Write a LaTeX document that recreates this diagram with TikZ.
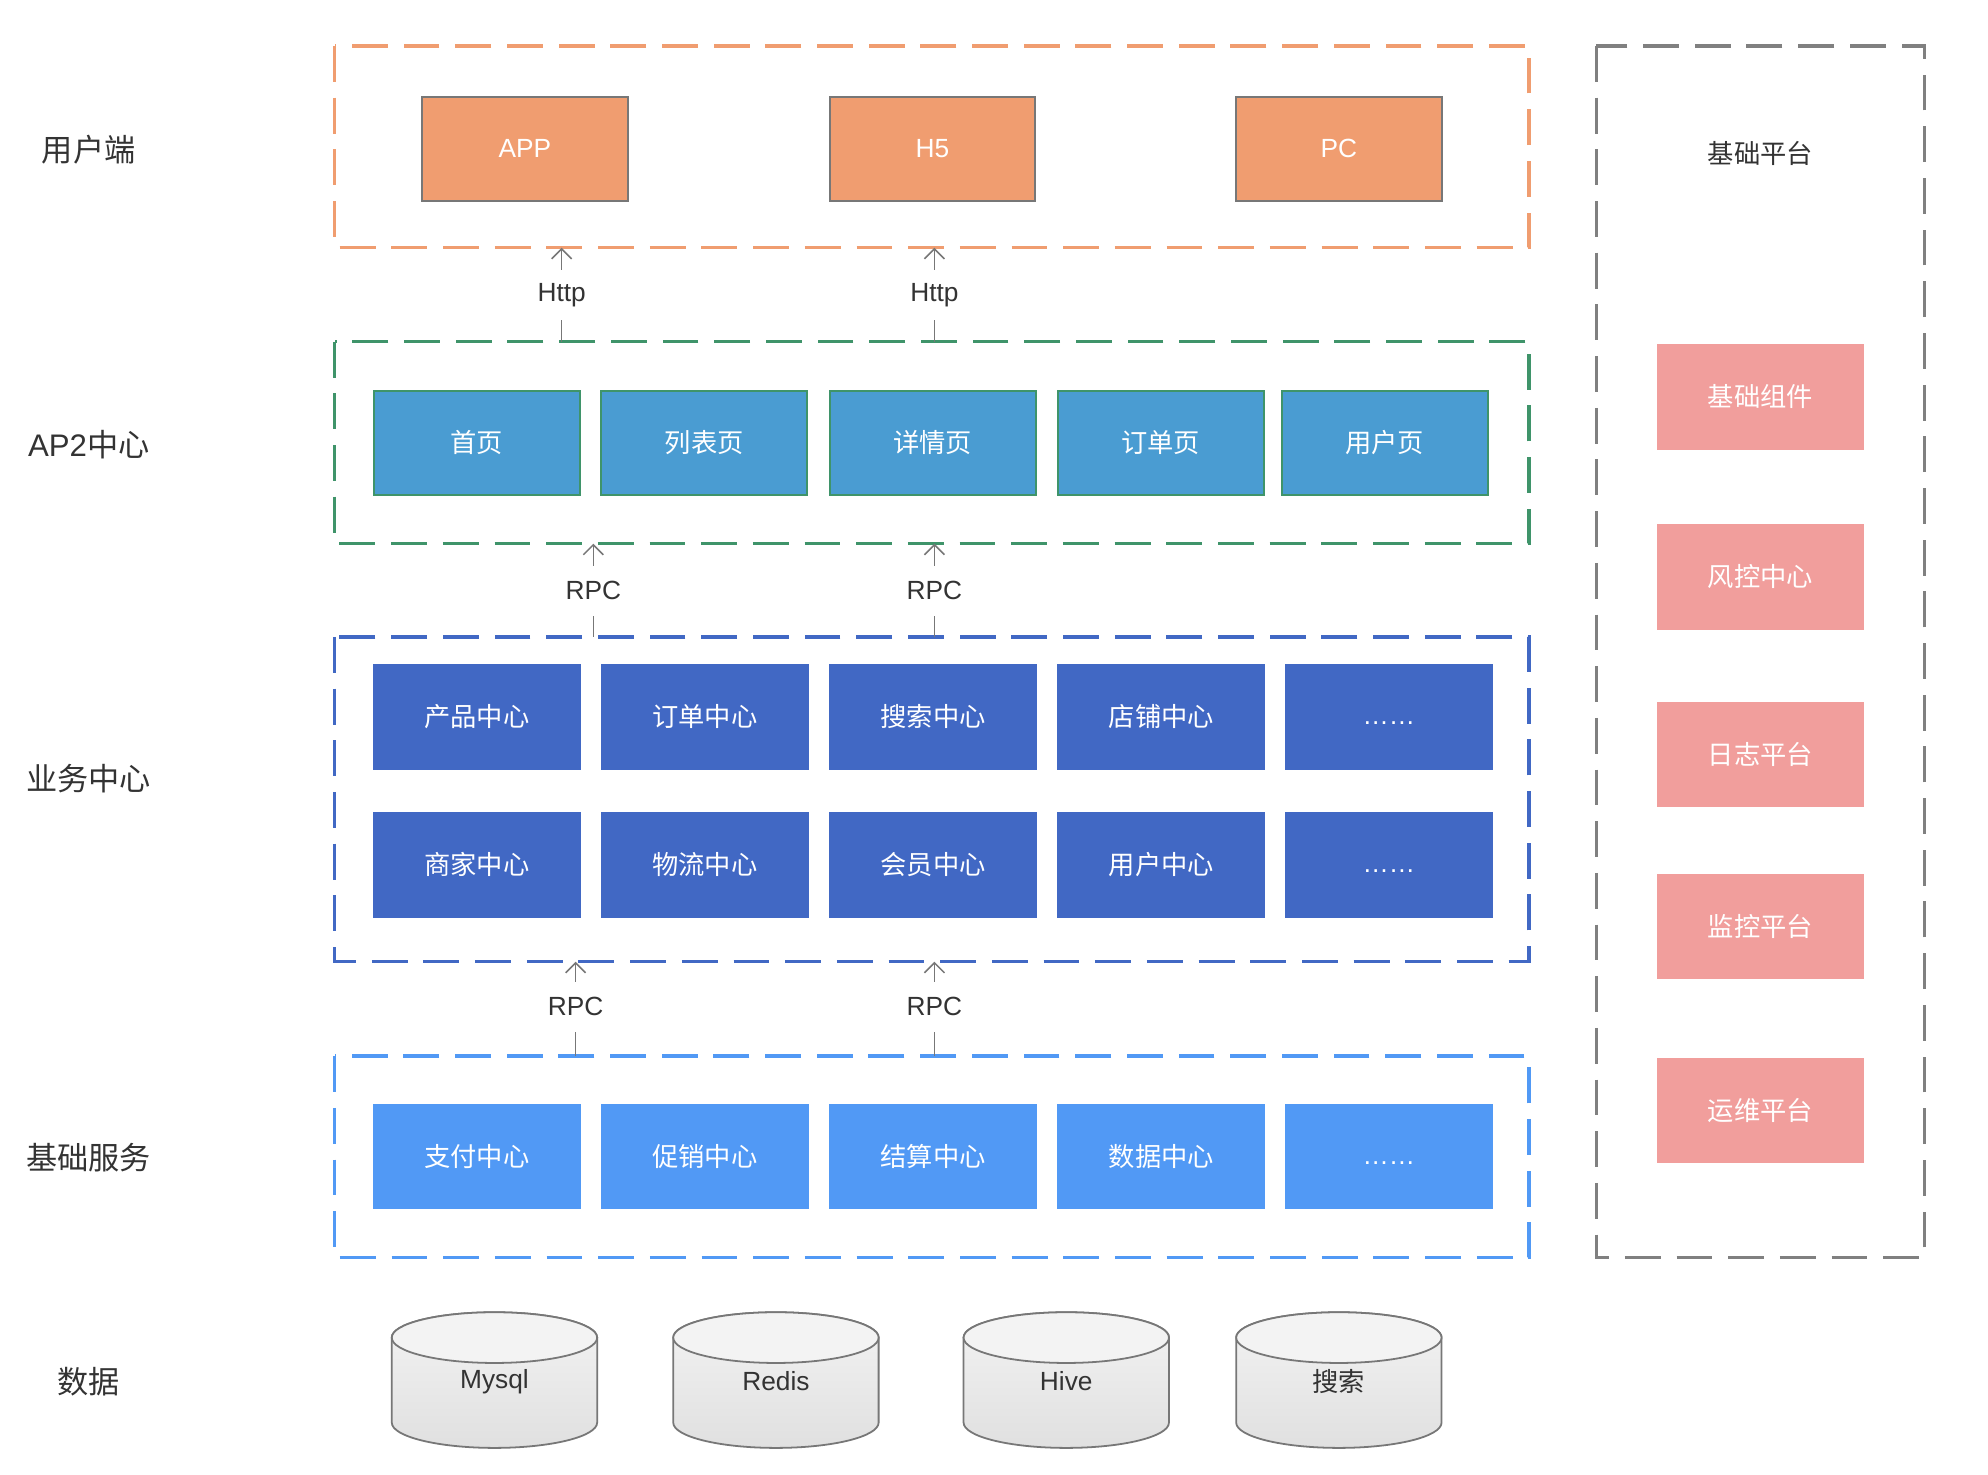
\documentclass[tikz,border=0pt]{standalone}
\usepackage{fontspec}
\setmainfont{Liberation Sans}
\newfontfamily\cjk{Noto Sans CJK SC}
\usetikzlibrary{arrows.meta,fit}
\definecolor{corange}{HTML}{F09D70}
\definecolor{cgreen}{HTML}{3F946A}
\definecolor{cap}{HTML}{4A9CD2}
\definecolor{cbiz}{HTML}{4168C4}
\definecolor{cbase}{HTML}{5199F5}
\definecolor{cpink}{HTML}{F19E9C}
\definecolor{cgray}{HTML}{808080}
\definecolor{cbord}{HTML}{777777}
\definecolor{ctext}{HTML}{333333}
\definecolor{carrow}{HTML}{777777}
\definecolor{dbtop}{HTML}{F3F3F3}
\definecolor{dbbot}{HTML}{E0E0E0}
\begin{document}
\begin{tikzpicture}[x=0.02cm,y=-0.02cm,
  hold/.style={inner sep=0pt,outer sep=0pt,draw=none},
  cont/.style={line width=1.5pt,dash pattern=on 16.1pt off 7.1pt},
  boxfont/.style={font=\cjk\fontsize{11.8}{14}\selectfont},
  latfont/.style={font=\fontsize{11.8}{14}\selectfont},
  dots/.style={latfont,text height=7pt,text depth=0pt},
  basebox/.style={inner sep=0pt,outer sep=0pt,text=white,minimum width=3.26cm,minimum height=1.65cm},
  obox/.style={basebox,latfont,draw=cbord,line width=0.9pt,fill=corange,minimum width=3.24cm,minimum height=1.644cm},
  pbox/.style={basebox,boxfont,draw=cgreen,line width=0.9pt,fill=cap,minimum width=3.25cm,minimum height=1.646cm},
  bbox/.style={basebox,boxfont,fill=cbiz,minimum width=3.28cm,minimum height=1.666cm},
  sbox/.style={basebox,boxfont,fill=cbase,minimum width=3.28cm,minimum height=1.656cm},
  kbox/.style={basebox,boxfont,fill=cpink,minimum width=3.26cm,minimum height=1.665cm},
  lbl/.style={latfont,text=ctext,inner sep=0pt,outer sep=0pt,minimum height=22.5pt},
  side/.style={font=\cjk\fontsize{14}{17}\selectfont,text=ctext,inner sep=0pt},
  conn/.style={draw=carrow,line width=0.7pt},
  tip/.style={conn,-{Straight Barb[length=4.5pt,width=9pt]}},
  dbshape/.style={draw=cbord,line width=0.8pt},
  dbtext/.style={latfont,text=ctext,inner sep=0pt}
]
\useasboundingbox[fill=white] (0,0) rectangle (1568,1163);

% containers
\node[hold,fit={(264,36.3)(1206,195.4)}] (uc) {};
\node[hold,fit={(264,269.5)(1206,428.8)}] (apc) {};
\node[hold,fit={(264,502.4)(1206,758.5)}] (biz) {};
\node[hold,fit={(264,833)(1206,992)}] (base) {};
\node[hold,fit={(1259,36.3)(1518,992)}] (plat) {};
\draw[cont,draw=corange] (uc.north west) rectangle (uc.south east);
\draw[cont,draw=cgreen] (apc.north west) rectangle (apc.south east);
\draw[cont,draw=cbiz] (biz.north west) rectangle (biz.south east);
\draw[cont,draw=cbase] (base.north west) rectangle (base.south east);
\draw[cont,draw=cgray] (plat.north west) rectangle (plat.south east);

% side labels
\node[side] (s1) at (70,118.3) {用户端};
\node[side] (s2) at (70,350.5) {\fontspec{Liberation Sans}AP2\cjk 中心};
\node[side] (s3) at (70,614) {业务中心};
\node[side] (s4) at (70,913) {基础服务};
\node[side] (s5) at (70,1089.5) {数据};

% user end
\node[obox] (app) at (414,117.4) {APP};
\node[obox] (h5) at (735.5,117.4) {H5};
\node[obox] (pc) at (1056,117.4) {PC};

% AP2
\node[pbox] (p1) at (376,349.25) {首页};
\node[pbox] (p2) at (555.5,349.25) {列表页};
\node[pbox] (p3) at (735.5,349.25) {详情页};
\node[pbox] (p4) at (915.5,349.25) {订单页};
\node[pbox] (p5) at (1092,349.25) {用户页};

% business
\node[bbox] (b1) at (376,565.35) {产品中心};
\node[bbox] (b2) at (556,565.35) {订单中心};
\node[bbox] (b3) at (736,565.35) {搜索中心};
\node[bbox] (b4) at (916,565.35) {店铺中心};
\node[bbox,dots] (b5) at (1095.5,565.35) {……};
\node[bbox] (b6) at (376,682.1) {商家中心};
\node[bbox] (b7) at (556,682.1) {物流中心};
\node[bbox] (b8) at (736,682.1) {会员中心};
\node[bbox] (b9) at (916,682.1) {用户中心};
\node[bbox,dots] (b10) at (1095.5,682.1) {……};

% base services
\node[sbox] (f1) at (376,912.1) {支付中心};
\node[sbox] (f2) at (556,912.1) {促销中心};
\node[sbox] (f3) at (736,912.1) {结算中心};
\node[sbox] (f4) at (916,912.1) {数据中心};
\node[sbox,dots] (f5) at (1095.5,912.1) {……};

% platform
\node[boxfont,text=ctext,inner sep=0pt] (pt) at (1388.5,120.8) {基础平台};
\node[kbox] (k1) at (1388.5,313) {基础组件};
\node[kbox] (k2) at (1388.5,454.9) {风控中心};
\node[kbox] (k3) at (1388.5,595.25) {日志平台};
\node[kbox] (k4) at (1388.5,730.9) {监控平台};
\node[kbox] (k5) at (1388.5,876.05) {运维平台};

% data stores (cylinders)
\foreach \cx/\nm/\txt in {390/mysql/Mysql,612/redis/Redis,841/hive/Hive,1056/search/{\cjk 搜索}}{
  \begin{scope}[shift={(\cx,1088.5)},y=0.02cm]
    \path[dbshape,top color=dbtop,bottom color=dbbot]
      (-81,33.5) -- (-81,-33.5)
      arc[start angle=180,end angle=360,x radius=81,y radius=20]
      -- (81,33.5)
      arc[start angle=0,end angle=180,x radius=81,y radius=20] -- cycle;
    \path[dbshape,fill=dbtop] (0,33.5) ellipse[x radius=81,y radius=20];
  \end{scope}
  \node[dbtext] (\nm) at (\cx,1089.5) {\txt};
}

% connectors
\node[lbl] (l1) at (443,232.7) {Http};
\node[lbl] (l2) at (737,232.7) {Http};
\node[lbl] (l3) at (468,466) {RPC};
\node[lbl] (l4) at (737,466) {RPC};
\node[lbl] (l5) at (454,794) {RPC};
\node[lbl] (l6) at (737,794) {RPC};
\foreach \l/\lo/\up in {l1/apc/uc,l2/apc/uc,l3/biz/apc,l4/biz/apc,l5/base/biz,l6/base/biz}{
  \draw[conn] (\lo.north -| \l.south) -- (\l.south);
  \draw[tip] (\l.north) -- (\up.south -| \l.north);
}
\end{tikzpicture}
\end{document}
